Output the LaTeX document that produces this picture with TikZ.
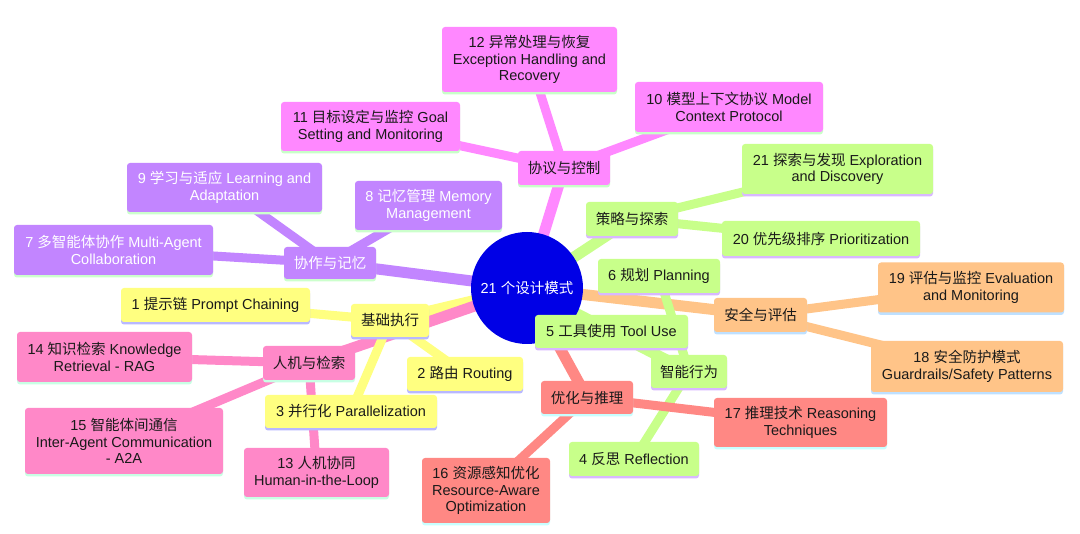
\documentclass[tikz,border=0pt]{standalone}
\usepackage{fontspec}
\setmainfont{Liberation Sans}
\newfontfamily\cjk{Noto Sans CJK SC}
\newcommand\zh[1]{{\cjk #1}}
\usetikzlibrary{shadows}
\pgfdeclarelayer{background}
\pgfsetlayers{background,main}
\definecolor{cPur}{HTML}{C285FF}
\definecolor{cPurS}{HTML}{CCFFCC}
\definecolor{cMag}{HTML}{FF88FF}
\definecolor{cMagS}{HTML}{C8FFC8}
\definecolor{cGrn}{HTML}{C8FF8A}
\definecolor{cGrnS}{HTML}{D8B8FF}
\definecolor{cOra}{HTML}{FFC488}
\definecolor{cOraS}{HTML}{BEE0FF}
\definecolor{cSal}{HTML}{FF8884}
\definecolor{cSalS}{HTML}{C8FFFF}
\definecolor{cPnk}{HTML}{FF88C8}
\definecolor{cPnkS}{HTML}{C8FFE4}
\definecolor{cYel}{HTML}{FFFF80}
\definecolor{cYelS}{HTML}{B8B8FF}
\definecolor{cHub}{HTML}{0000E6}
\definecolor{cTxt}{HTML}{1A1A1A}
\tikzset{
  box/.style={rectangle, rounded corners=3pt, inner sep=0pt, align=center,
    font=\fontsize{14.5}{16.5}\selectfont, text=cTxt},
  pbox/.style={box, fill=cPur, text=white, general shadow={fill=cPurS, shadow yshift=-2.5pt}},
  mbox/.style={box, fill=cMag, general shadow={fill=cMagS, shadow yshift=-2.5pt}},
  gbox/.style={box, fill=cGrn, general shadow={fill=cGrnS, shadow yshift=-2.5pt}},
  obox/.style={box, fill=cOra, general shadow={fill=cOraS, shadow yshift=-2.5pt}},
  rbox/.style={box, fill=cSal, general shadow={fill=cSalS, shadow yshift=-2.5pt}},
  hbox/.style={box, fill=cPnk, general shadow={fill=cPnkS, shadow yshift=-2.5pt}},
  ybox/.style={box, fill=cYel, general shadow={fill=cYelS, shadow yshift=-2.5pt}},
  hubline/.style={line width=11pt},
  leafline/.style={line width=9pt},
  sz/.style 2 args={minimum width=#1, minimum height=#2}
}
\begin{document}
\begin{tikzpicture}[x=1pt,y=-1pt]
\useasboundingbox (0,0) rectangle (1080,534);

% hub
\node[circle, fill=cHub, minimum size=112pt, inner sep=0pt, text=white,
  font=\fontsize{14.5}{16.5}\selectfont] (c) at (527,288) {21 \zh{个设计模式}};

% purple group
\node[pbox, sz={92}{32}] (cm) at (330,263) {\zh{协作与记忆}};
\node[pbox, sz={195}{49}] (p9) at (224.5,187.5) {9 \zh{学习与适应} Learning and\\Adaptation};
\node[pbox, sz={147}{49}] (p8) at (428.5,205.5) {8 \zh{记忆管理} Memory\\Management};
\node[pbox, sz={199}{50}] (p7) at (113.5,250) {7 \zh{多智能体协作} Multi-Agent\\Collaboration};

% yellow group
\node[ybox, sz={78}{33}] (yb) at (390,320.5) {\zh{基础执行}};
\node[ybox, sz={189}{34}] (y1) at (215.5,305) {1 \zh{提示链} Prompt Chaining};
\node[ybox, sz={116}{34}] (y2) at (465,374) {2 \zh{路由} Routing};
\node[ybox, sz={172}{33}] (y3) at (351,411.5) {3 \zh{并行化} Parallelization};

% pink group
\node[hbox, sz={92}{34}] (hb) at (309,363) {\zh{人机与检索}};
\node[hbox, sz={175}{50}] (h14) at (104.5,357) {14 \zh{知识检索} Knowledge\\Retrieval - RAG};
\node[hbox, sz={198}{66}] (h15) at (124,441) {15 \zh{智能体间通信}\\Inter-Agent Communication\\- A2A};
\node[hbox, sz={145}{49}] (h13) at (316.5,472.5) {13 \zh{人机协同}\\Human-in-the-Loop};

% magenta group
\node[mbox, sz={92}{34}] (mb) at (564,168) {\zh{协议与控制}};
\node[mbox, sz={175}{65}] (m12) at (529.5,59.5) {12 \zh{异常处理与恢复}\\Exception Handling and\\Recovery};
\node[mbox, sz={179}{49}] (m11) at (370.5,126.5) {11 \zh{目标设定与监控} Goal\\Setting and Monitoring};
\node[mbox, sz={188}{50}] (m10) at (729,107) {10 \zh{模型上下文协议} Model\\Context Protocol};

% green strategy group
\node[gbox, sz={92}{34}] (gb) at (632,219) {\zh{策略与探索}};
\node[gbox, sz={191}{50}] (g21) at (837.5,169) {21 \zh{探索与发现} Exploration\\and Discovery};
\node[gbox, sz={198}{35}] (g20) at (821,238.5) {20 \zh{优先级排序} Prioritization};

% green behaviour group
\node[gbox, sz={76}{33}] (ib) at (689,371.5) {\zh{智能行为}};
\node[gbox, sz={122}{34}] (g6) at (659,276) {6 \zh{规划} Planning};
\node[gbox, sz={153}{33}] (g5) at (611.5,331.5) {5 \zh{工具使用} Tool Use};
\node[gbox, sz={130}{34}] (g4) at (634,459) {4 \zh{反思} Reflection};

% orange group
\node[obox, sz={93}{34}] (ob) at (760.5,315) {\zh{安全与评估}};
\node[obox, sz={186}{50}] (o19) at (971,287.5) {19 \zh{评估与监控} Evaluation\\and Monitoring};
\node[obox, sz={192}{51}] (o18) at (967,366.5) {18 \zh{安全防护模式}\\Guardrails/Safety Patterns};

% salmon group
\node[rbox, sz={92}{33}] (rb) at (587,397.5) {\zh{优化与推理}};
\node[rbox, sz={173}{49}] (r17) at (800.5,422.5) {17 \zh{推理技术} Reasoning\\Techniques};
\node[rbox, sz={128}{65}] (r16) at (486,490.5) {16 \zh{资源感知优化}\\Resource-Aware\\Optimization};

\begin{pgfonlayer}{background}
  \fill[white] (0,0) rectangle (1080,534);
  % hub branches
  \draw[hubline, cPur] (cm.center) -- (c.center);
  \draw[hubline, cYel] (yb.center) -- (c.center);
  \draw[hubline, cPnk] (hb.center) -- (c.center);
  \draw[hubline, cMag] (mb.center) -- (c.center);
  \draw[hubline, cGrn] (gb.center) -- (c.center);
  \draw[hubline, cGrn] (ib.center) -- (c.center);
  \draw[hubline, cOra] (ob.center) -- (c.center);
  \draw[hubline, cSal] (rb.center) -- (c.center);
  % leaves
  \draw[leafline, cPur] (p9.center) -- (cm.center);
  \draw[leafline, cPur] (p8.center) -- (cm.center);
  \draw[leafline, cPur] (p7.center) -- (cm.center);
  \draw[leafline, cYel] (y1.center) -- (yb.center);
  \draw[leafline, cYel] (y2.center) -- (yb.center);
  \draw[leafline, cYel] (y3.center) -- (yb.center);
  \draw[leafline, cPnk] (h14.center) -- (hb.center);
  \draw[leafline, cPnk] (h15.center) -- (hb.center);
  \draw[leafline, cPnk] (h13.center) -- (hb.center);
  \draw[leafline, cMag] (m12.center) -- (mb.center);
  \draw[leafline, cMag] (m11.center) -- (mb.center);
  \draw[leafline, cMag] (m10.center) -- (mb.center);
  \draw[leafline, cGrn] (g21.center) -- (gb.center);
  \draw[leafline, cGrn] (g20.center) -- (gb.center);
  \draw[leafline, cGrn] (g6.center) -- (ib.center);
  \draw[leafline, cGrn] (g5.center) -- (ib.center);
  \draw[leafline, cGrn] (g4.center) -- (ib.center);
  \draw[leafline, cOra] (o19.center) -- (ob.center);
  \draw[leafline, cOra] (o18.center) -- (ob.center);
  \draw[leafline, cSal] (r17.center) -- (rb.center);
  \draw[leafline, cSal] (r16.center) -- (rb.center);
\end{pgfonlayer}
\end{tikzpicture}
\end{document}
